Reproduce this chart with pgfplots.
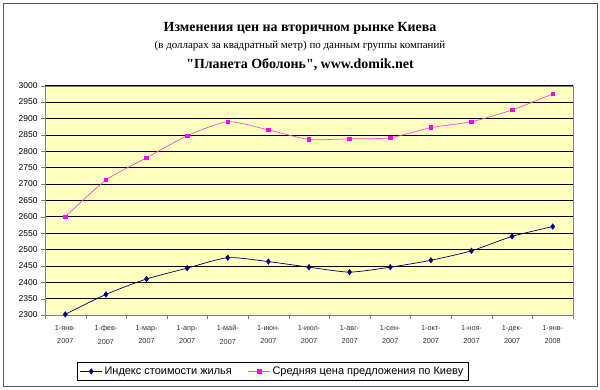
\documentclass[border=0pt]{standalone}
\usepackage{fontspec}
\setmainfont{Liberation Serif}
\newfontfamily\tserif{Liberation Serif}
\newfontfamily\arial{Liberation Sans}
\usepackage{pgfplots}
\pgfplotsset{compat=1.18}
\definecolor{bgyellow}{RGB}{255,255,192}
\definecolor{navy}{RGB}{0,0,128}
\definecolor{mag}{RGB}{255,0,255}
\definecolor{magline}{RGB}{240,80,200}
\begin{document}
\begin{tikzpicture}[x=1bp,y=1bp]
\useasboundingbox (0,0) rectangle (600,389);
\draw[gray!70!black, line width=1pt] (3,3) rectangle (597,386);
\node[font=\bfseries\fontsize{14}{16}\selectfont] at (300,361) {Изменения цен на вторичном рынке Киева};
\node[font=\fontsize{11}{13}\selectfont] at (300,343) {(в долларах за квадратный метр) по данным группы компаний};
\node[font=\tserif\bfseries\fontsize{14}{16}\selectfont] at (300,324) {"Планета Оболонь", www.domik.net};
\begin{axis}[
  at={(45bp,74bp)}, anchor=south west,
  width=528bp, height=229.3bp, scale only axis,
  xmin=-0.5, xmax=12.5, ymin=2300, ymax=3000,
  axis background/.style={fill=bgyellow},
  axis line style={gray},
  xtick={0,...,12},
  xticklabels={1-янв-\\2007,1-фев-\\2007,1-мар-\\2007,1-апр-\\2007,1-май-\\2007,1-июн-\\2007,1-июл-\\2007,1-авг-\\2007,1-сен-\\2007,1-окт-\\2007,1-ноя-\\2007,1-дек-\\2007,1-янв-\\2008},
  xticklabel style={align=center, font=\arial\fontsize{7.3}{13.5}\selectfont, text=black!80, yshift=-3bp},
  major x tick style={draw=none},
  minor xtick={-0.5,0.5,...,12.5},
  minor tick length=4bp,
  minor x tick style={gray},
  ytick={2300,2350,...,3000},
  yticklabel style={font=\arial\fontsize{8.5}{10}\selectfont},
  /pgf/number format/assume math mode=true,
  /pgf/number format/1000 sep={},
  ymajorgrids, major grid style={black, line width=0.5pt},
  major y tick style={gray},
  tick align=outside, major tick length=4bp,
  axis x line*=bottom, axis y line*=left,
  tick pos=left,
  legend style={at={(0.431,-0.246)}, anchor=center, legend columns=2, draw=black, font=\arial\fontsize{11}{13}\selectfont, /tikz/every even column/.append style={column sep=14bp}, inner sep=2.5pt},
  legend image code/.code={\draw[#1] (0bp,0bp) -- (22bp,0bp); \draw[#1, only marks] plot coordinates {(11bp,0bp)};},
  clip=false,
]
\addplot[navy!70!black, line width=0.7pt, smooth, tension=0.4, mark=diamond*, mark size=2.6pt, mark options={fill=navy, draw=navy}] coordinates {
(0,2302) (1,2363) (2,2410) (3,2443) (4,2475) (5,2463) (6,2446) (7,2431) (8,2446) (9,2467) (10,2496) (11,2540) (12,2570)};
\addlegendentry{Индекс стоимости жилья}
\addplot[magline, line width=0.7pt, smooth, tension=0.4, mark=square*, mark size=1.8pt, mark options={fill=mag, draw=mag}] coordinates {
(0,2600) (1,2712) (2,2780) (3,2847) (4,2890) (5,2865) (6,2836) (7,2838) (8,2841) (9,2872) (10,2890) (11,2926) (12,2975)};
\addlegendentry{Средняя цена предложения по Киеву}
\draw[gray] (rel axis cs:0,1) -- (rel axis cs:1,1) -- (rel axis cs:1,0);
\end{axis}
\end{tikzpicture}
\end{document}
